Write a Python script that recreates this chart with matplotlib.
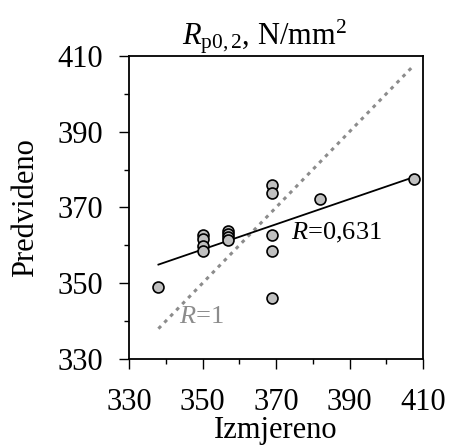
import numpy as np
import matplotlib
matplotlib.use("Agg")
import matplotlib.pyplot as plt
from matplotlib.ticker import MultipleLocator

plt.rcParams["font.family"] = "Liberation Serif"
plt.rcParams["mathtext.fontset"] = "custom"
plt.rcParams["mathtext.rm"] = "Liberation Serif"
plt.rcParams["mathtext.it"] = "Liberation Serif:italic"

measured = [338, 350, 350, 350, 350, 357, 357, 357, 357, 369, 369, 369, 369, 369, 382, 407.5]
predicted = [349.1, 362.8, 361.6, 359.7, 358.4, 363.9, 363.0, 362.2, 361.3,
             376.0, 373.9, 362.8, 358.6, 346.0, 372.3, 377.5]
ideal_x = [338, 407]
ticks = [330, 350, 370, 390, 410]

fig = plt.figure(figsize=(4.5, 4.47), dpi=100)
ax = fig.add_axes([0.2867, 0.1969, 0.6533, 0.678])

# ideal line R=1
ax.plot(ideal_x, ideal_x, color="#8c8c8c", lw=2.2, linestyle=(0, (1.2, 1.6)))

# regression line
k, b = np.polyfit(measured, predicted, 1)
xs = np.array([min(measured), max(measured)])
ax.plot(xs, k * xs + b, color="black", lw=1.3)

ax.scatter(measured, predicted, s=62, facecolor="#c0c0c0", edgecolor="black",
           linewidth=1.2, zorder=3)

ax.text(374, 363.3, r"$\mathit{R}$=0,631", fontsize=19, va="center", ha="left")
ax.text(343.5, 341, r"$\mathit{R}$=1", fontsize=19, va="center", ha="left",
        color="#8c8c8c")

ax.set_xlim(330, 410)
ax.set_ylim(330, 410)
ax.set_xticks(ticks)
ax.set_yticks(ticks)
ax.xaxis.set_minor_locator(MultipleLocator(10))
ax.yaxis.set_minor_locator(MultipleLocator(10))
ax.tick_params(which="major", direction="out", length=7, width=1, labelsize=22)
ax.tick_params(axis="x", which="major", pad=14)
ax.tick_params(axis="y", which="major", pad=12)
ax.tick_params(which="minor", direction="out", length=3.5, width=1)
for s in ax.spines.values():
    s.set_linewidth(1.3)

ax.set_xlabel("Izmjereno", fontsize=22, labelpad=-1)
ax.set_ylabel("Predvideno", fontsize=22, labelpad=12)
ax.set_title(r"$\mathit{R}_{\mathrm{p0,2}}$, N/mm$^2$", fontsize=22, pad=6,
             x=0.46)

fig.savefig("out.png", dpi=100)
